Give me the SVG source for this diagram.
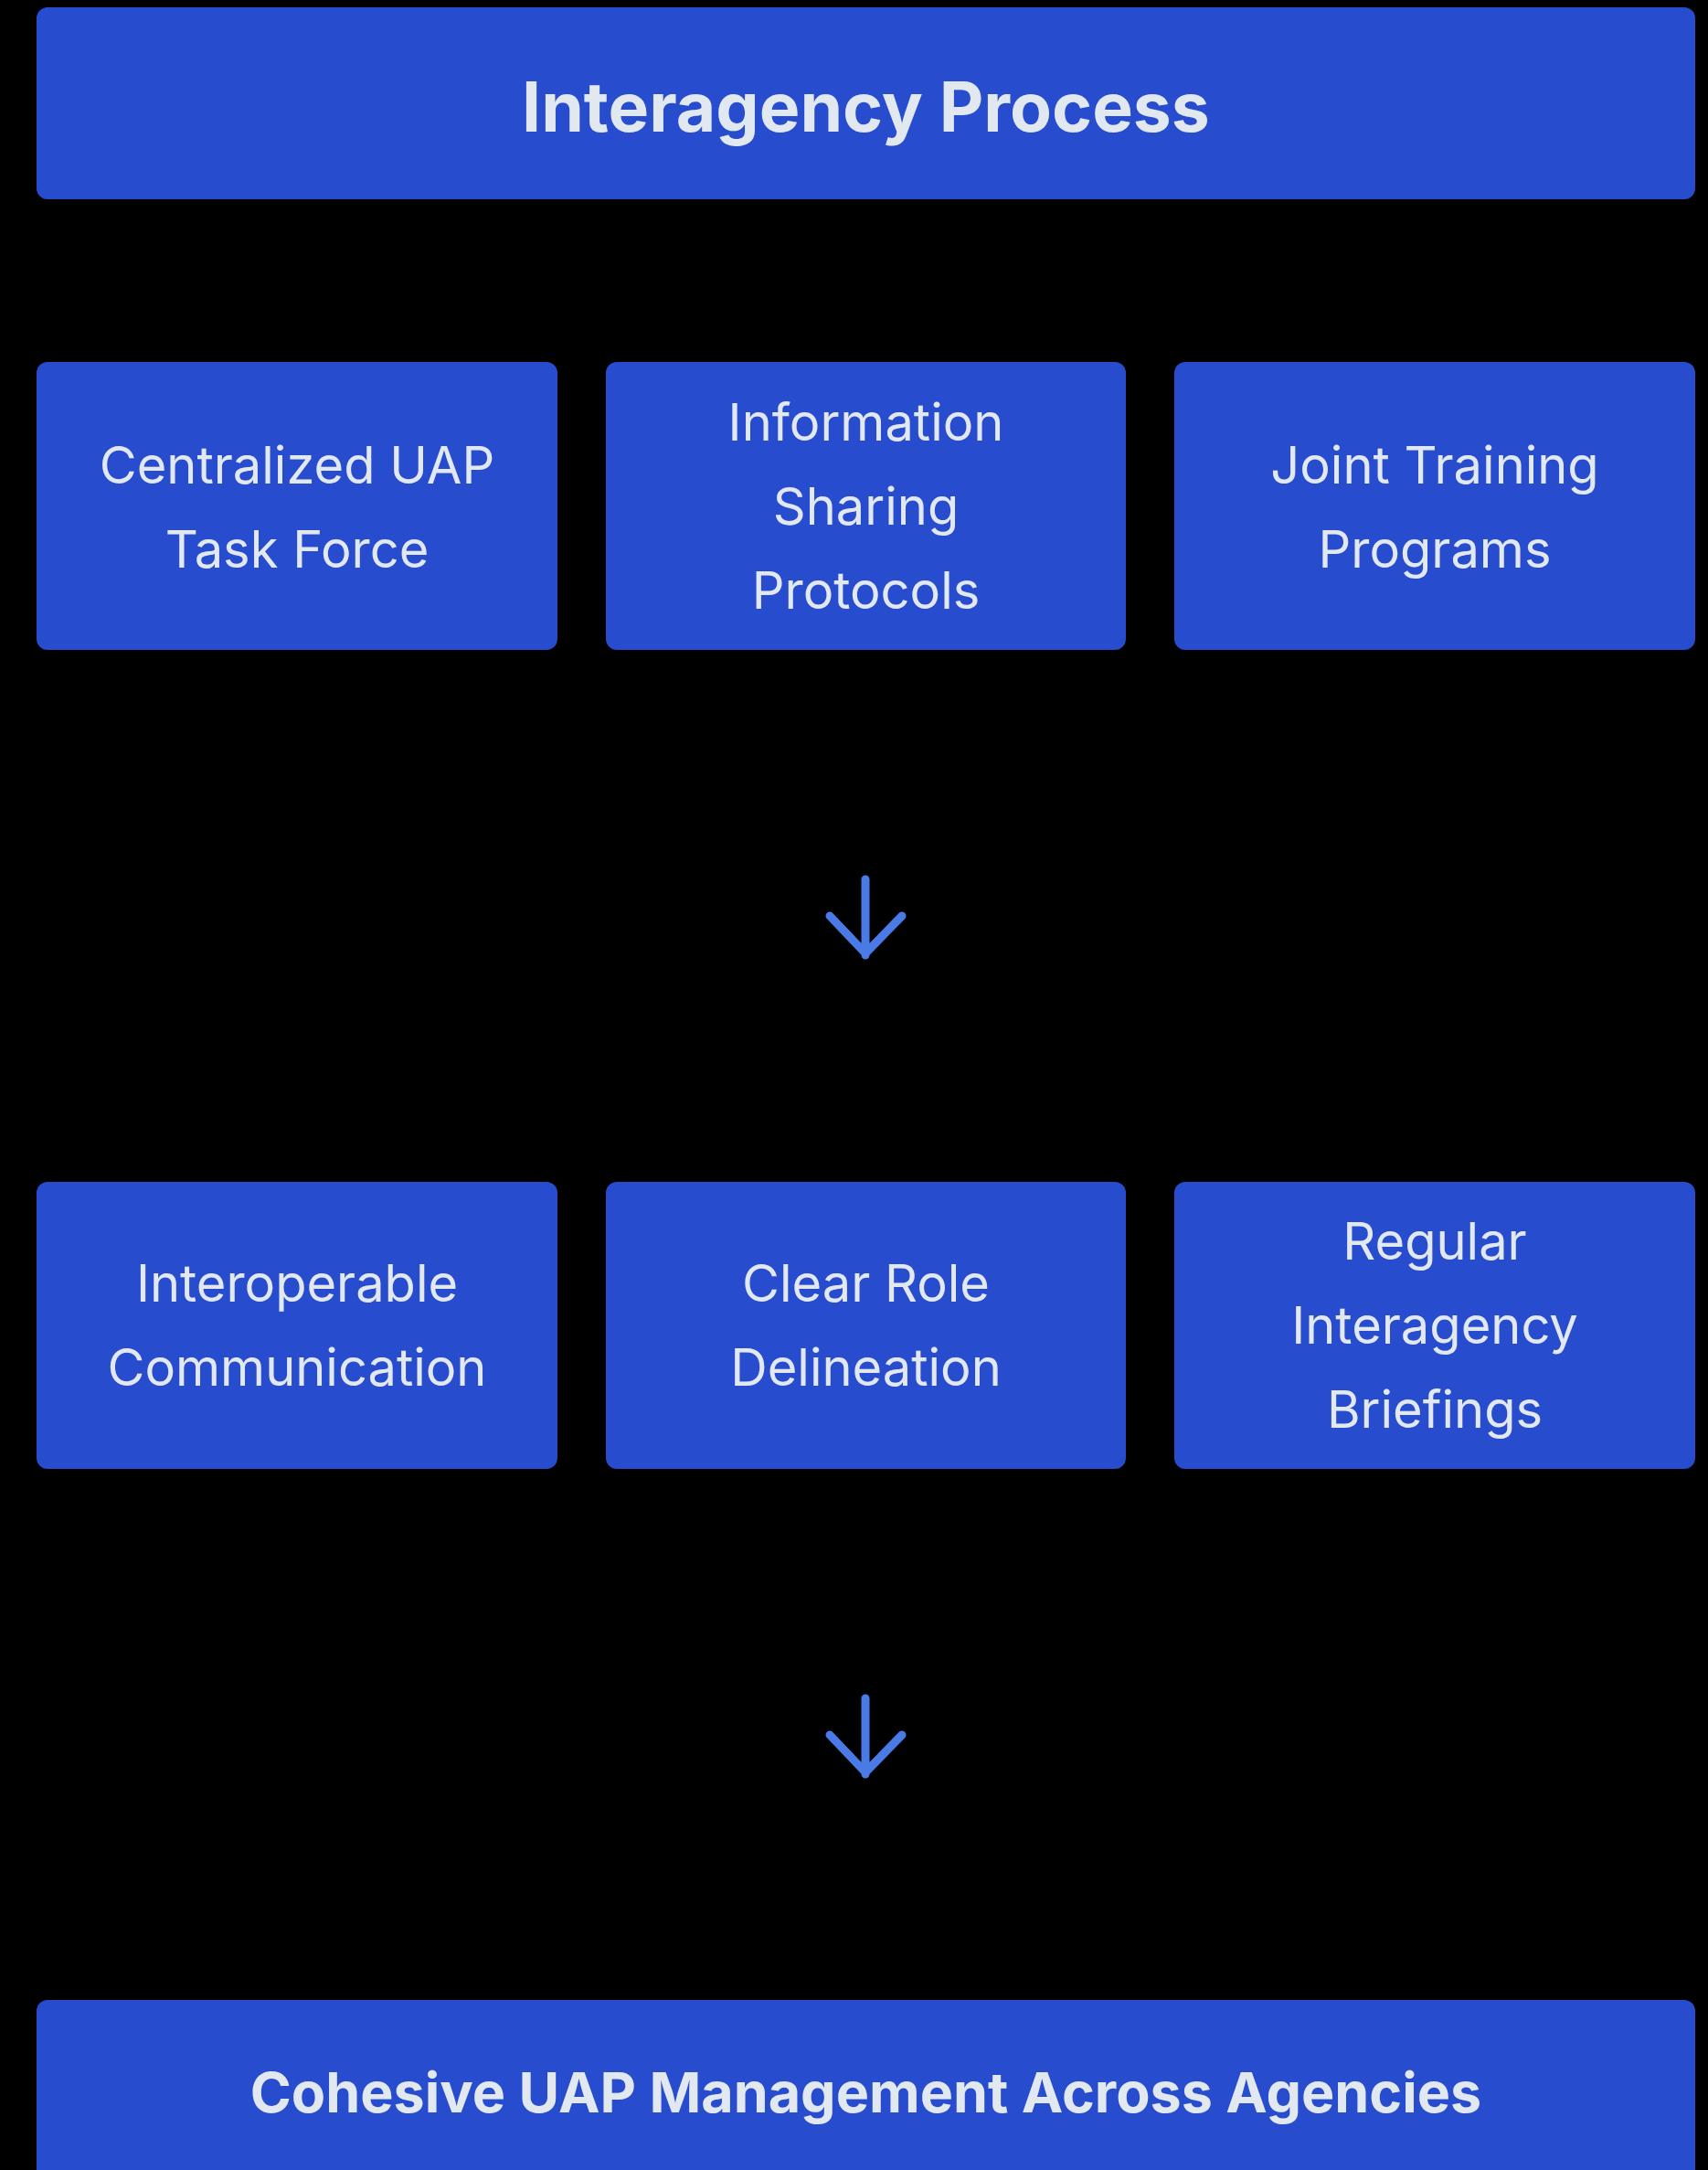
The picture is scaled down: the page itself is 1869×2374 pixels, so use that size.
<svg xmlns="http://www.w3.org/2000/svg" width="1869" height="2374" viewBox="0 0 1869 2374">
<style>
.box{fill:#284cce;}
.t{font-family:Inter,"Noto Sans","Liberation Sans",sans-serif;fill:#e2e8f0;text-anchor:middle;dominant-baseline:central;}
.n{font-size:56px;}
.h{font-size:75px;font-weight:700;}
.h2{font-size:61px;font-weight:700;}
.arr{fill:none;stroke:#4a7ae6;stroke-width:9;stroke-linecap:round;stroke-linejoin:round;}
</style>
<rect width="1869" height="2374" fill="#000"/>
<g id="title">
<rect class="box" x="40" y="8" width="1815" height="210" rx="12"/>
<text class="t h" x="947.5" y="116">Interagency Process</text>
</g>
<g id="n1">
<rect class="box" x="40" y="396" width="570" height="315" rx="12"/>
<text class="t n" x="325" y="509">Centralized UAP</text>
<text class="t n" x="325" y="601">Task Force</text>
</g>
<g id="n2">
<rect class="box" x="663" y="396" width="569" height="315" rx="12"/>
<text class="t n" x="947.5" y="462">Information</text>
<text class="t n" x="947.5" y="554">Sharing</text>
<text class="t n" x="947.5" y="646">Protocols</text>
</g>
<g id="n3">
<rect class="box" x="1285" y="396" width="570" height="315" rx="12"/>
<text class="t n" x="1570" y="509">Joint Training</text>
<text class="t n" x="1570" y="601">Programs</text>
</g>
<g id="n4">
<rect class="box" x="40" y="1293" width="570" height="314" rx="12"/>
<text class="t n" x="325" y="1404">Interoperable</text>
<text class="t n" x="325" y="1496">Communication</text>
</g>
<g id="n5">
<rect class="box" x="663" y="1293" width="569" height="314" rx="12"/>
<text class="t n" x="947.5" y="1404">Clear Role</text>
<text class="t n" x="947.5" y="1496">Delineation</text>
</g>
<g id="n6">
<rect class="box" x="1285" y="1293" width="570" height="314" rx="12"/>
<text class="t n" x="1570" y="1358">Regular</text>
<text class="t n" x="1570" y="1450">Interagency</text>
<text class="t n" x="1570" y="1542">Briefings</text>
</g>
<g id="result">
<rect class="box" x="40" y="2188" width="1815" height="210" rx="12"/>
<text class="t h2" x="947.5" y="2289">Cohesive UAP Management Across Agencies</text>
</g>
<g id="connectors">
<path class="arr" d="M947 962V1045M908 1002L947 1043L987 1002"/>
<path class="arr" d="M947 1858V1941M908 1898L947 1939L987 1898"/>
</g>
</svg>
